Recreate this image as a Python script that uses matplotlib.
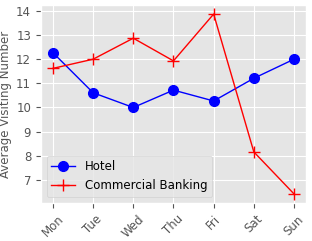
import matplotlib
matplotlib.use("Agg")
import matplotlib.pyplot as plt

plt.style.use("ggplot")

days = ["Mon", "Tue", "Wed", "Thu", "Fri", "Sat", "Sun"]
hotel = [12.27, 10.61, 10.0, 10.72, 10.27, 11.21, 12.0]
commercial = [11.62, 12.0, 12.87, 11.93, 13.87, 8.16, 6.42]
yticks = [7, 8, 9, 10, 11, 12, 13, 14]

fig, ax = plt.subplots(figsize=(3.12, 2.41), dpi=100)
ax.plot(days, hotel, color="blue", marker="o", markersize=7, linewidth=1, label="Hotel")
ax.plot(days, commercial, color="red", marker="+", markersize=8, linewidth=1, label="Commercial Banking")
ax.set_yticks(yticks)
ax.set_ylabel("Average Visiting Number", fontsize=8.5, labelpad=3)
ax.tick_params(axis="x", rotation=45, labelsize=8.5)
ax.tick_params(axis="y", labelsize=8.5)
ax.legend(loc="lower left", fontsize=8.5)
fig.subplots_adjust(left=0.131, right=0.981, top=0.979, bottom=0.158)
fig.savefig("out.png", dpi=100)
